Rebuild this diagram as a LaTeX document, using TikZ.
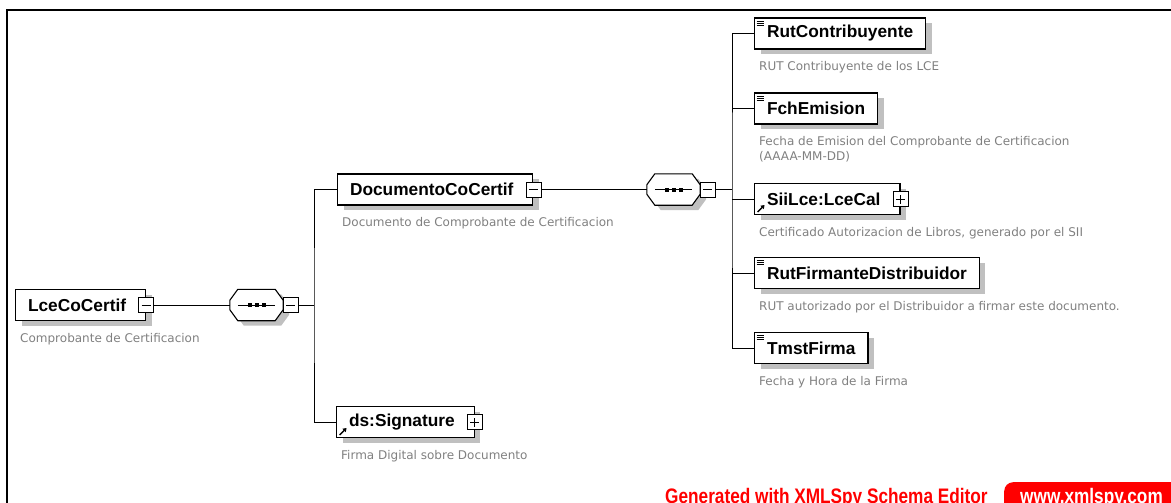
\documentclass[tikz,border=0pt]{standalone}
\usepackage{fontspec}
\newfontfamily\namefont{Liberation Sans}
\newfontfamily\descfont{DejaVu Sans}
\newfontfamily\wmfont[FakeStretch=0.82]{Liberation Sans}
\usetikzlibrary{arrows.meta}
\definecolor{shadowgray}{RGB}{192,192,192}
\definecolor{descgray}{RGB}{128,128,128}
\definecolor{wmred}{RGB}{255,0,0}
% octagon round a sequence node
\newcommand\octpath[1]{([xshift=8pt]#1.north west) -- ([xshift=-8pt]#1.north east)
  -- ([yshift=-11pt]#1.north east) -- ([yshift=11pt]#1.south east)
  -- ([xshift=-8pt]#1.south east) -- ([xshift=8pt]#1.south west)
  -- ([yshift=11pt]#1.south west) -- ([yshift=-11pt]#1.north west) -- cycle}
\newcommand\seqdraw[1]{%
  \fill[shadowgray, transform canvas={shift={(6pt,-5pt)}}] \octpath{#1};
  \draw[line width=1.1pt, fill=white] \octpath{#1};
  \draw[line width=0.9pt] ([xshift=8pt]#1.west) -- ([xshift=-8pt]#1.east);
  \foreach \dx in {-7,0,7}
    \fill ([xshift=\dx pt]#1.center) +(-2pt,-2pt) rectangle +(2pt,2pt);}

\begin{document}
\begin{tikzpicture}[x=1pt,y=-1pt,
    elem/.style={draw, line width=1.1pt, fill=white, minimum height=31pt,
      inner xsep=12.5pt, inner ysep=0pt, anchor=west,
      font=\namefont\bfseries\fontsize{17.3}{20}\selectfont,
      preaction={fill=shadowgray, transform canvas={shift={(6pt,-5pt)}}}},
    withsq/.style={execute at end node={\hspace{7pt}}},
    simple/.style={path picture={
        \foreach \d in {3,5,7}
          \draw[line width=0.7pt, black] ([xshift=2pt,yshift=-\d pt]path picture bounding box.north west) -- ++(7pt,0pt);}},
    isref/.style={path picture={
        \draw[line width=1.4pt, black, -{Triangle[length=3.5pt,width=4.5pt]}]
          ([xshift=3pt,yshift=2.5pt]path picture bounding box.south west) -- ++(7pt,7pt);}},
    sq/.style={draw, line width=0.8pt, fill=white, minimum size=15pt, inner sep=0pt},
    minus/.style={sq, path picture={
        \draw[black] ([xshift=3pt]path picture bounding box.west) -- ([xshift=-3pt]path picture bounding box.east);}},
    plus/.style={sq, path picture={
        \draw[black] ([xshift=3pt]path picture bounding box.west) -- ([xshift=-3pt]path picture bounding box.east);
        \draw[black] ([yshift=3pt]path picture bounding box.south) -- ([yshift=-3pt]path picture bounding box.north);}},
    seq/.style={minimum width=53pt, minimum height=31pt, inner sep=0pt},
    desc/.style={anchor=north west, inner sep=0pt, text=descgray, align=left,
      font=\descfont\fontsize{12}{15}\selectfont},
    wm/.style={inner sep=0pt, font=\wmfont\bfseries\fontsize{21}{22}\selectfont},
    ln/.style={line width=0.9pt}]
  \useasboundingbox (0,0) rectangle (1171,503);
  \clip (0,0) rectangle (1171,503);

  % frame
  \draw[line width=2.5pt] (7,510) -- (7,10) -- (1175,10);

  % root element and first sequence
  \node[elem, withsq] (lce) at (15,305) {LceCoCertif};
  \node[minus] (lcesq) at (lce.east) {};
  \node[desc] (lcedesc) at ([xshift=5pt,yshift=-12pt]lce.south west) {Comprobante de Certificacion};
  \node[seq] (seq1) at (256.5,305) {};
  \seqdraw{seq1}
  \node[minus] (seq1sq) at ([xshift=7.5pt]seq1.east) {};
  \coordinate (busA) at (314,305);
  \draw[ln] (lcesq) -- (seq1);
  \draw[ln] (seq1sq) -- (busA);

  % children of the first sequence
  \node[elem, withsq] (doc) at (337,189.5) {DocumentoCoCertif};
  \node[minus] (docsq) at (doc.east) {};
  \node[desc] (docdesc) at ([xshift=5pt,yshift=-12pt]doc.south west) {Documento de Comprobante de Certificacion};
  \node[elem, withsq, isref] (sig) at (336,422) {ds:Signature};
  \node[plus] (sigsq) at (sig.east) {};
  \node[desc] (sigdesc) at ([xshift=5pt,yshift=-12pt]sig.south west) {Firma Digital sobre Documento};
  \draw[ln] (doc.west) -| (busA) |- (sig.west);

  % second sequence
  \node[seq] (seq2) at (673.5,189.5) {};
  \seqdraw{seq2}
  \node[minus] (seq2sq) at ([xshift=7.5pt]seq2.east) {};
  \coordinate (busB) at (732,189.5);
  \draw[ln] (docsq) -- (seq2);
  \draw[ln] (seq2sq) -- (busB);

  % children of the second sequence
  \node[elem, simple] (rut) at (754,33.5) {RutContribuyente};
  \node[elem, simple] (fch) at (754,108.5) {FchEmision};
  \node[elem, withsq, isref] (sii) at (754,199) {SiiLce:LceCal};
  \node[plus] (siisq) at (sii.east) {};
  \node[elem, simple] (rfd) at (754,273) {RutFirmanteDistribuidor};
  \node[elem, simple] (tmst) at (754,348) {TmstFirma};
  \node[desc] (rutdesc) at ([xshift=5pt,yshift=-12pt]rut.south west) {RUT Contribuyente de los LCE};
  \node[desc] (fchdesc) at ([xshift=5pt,yshift=-12pt]fch.south west) {Fecha de Emision del Comprobante de Certificacion\\(AAAA-MM-DD)};
  \node[desc] (siidesc) at ([xshift=5pt,yshift=-12pt]sii.south west) {Certificado Autorizacion de Libros, generado por el SII};
  \node[desc] (rfddesc) at ([xshift=5pt,yshift=-12pt]rfd.south west) {RUT autorizado por el Distribuidor a firmar este documento.};
  \node[desc] (tmstdesc) at ([xshift=5pt,yshift=-12pt]tmst.south west) {Fecha y Hora de la Firma};
  \draw[ln] (rut.west) -| (busB) |- (tmst.west);
  \foreach \n in {fch,sii,rfd}
    \draw[ln] (\n.west) -- (\n.west -| busB);

  % watermark
  \node[wm, text=wmred, anchor=base west] (gen) at (665,503) {Generated with XMLSpy Schema Editor};
  \node[fill=wmred, rounded corners=9pt, minimum width=190pt, minimum height=40pt, anchor=north west] (badge) at (1004,482) {};
  \node[wm, text=white, anchor=base west] (www) at (1020,503) {www.xmlspy.com};
\end{tikzpicture}
\end{document}
